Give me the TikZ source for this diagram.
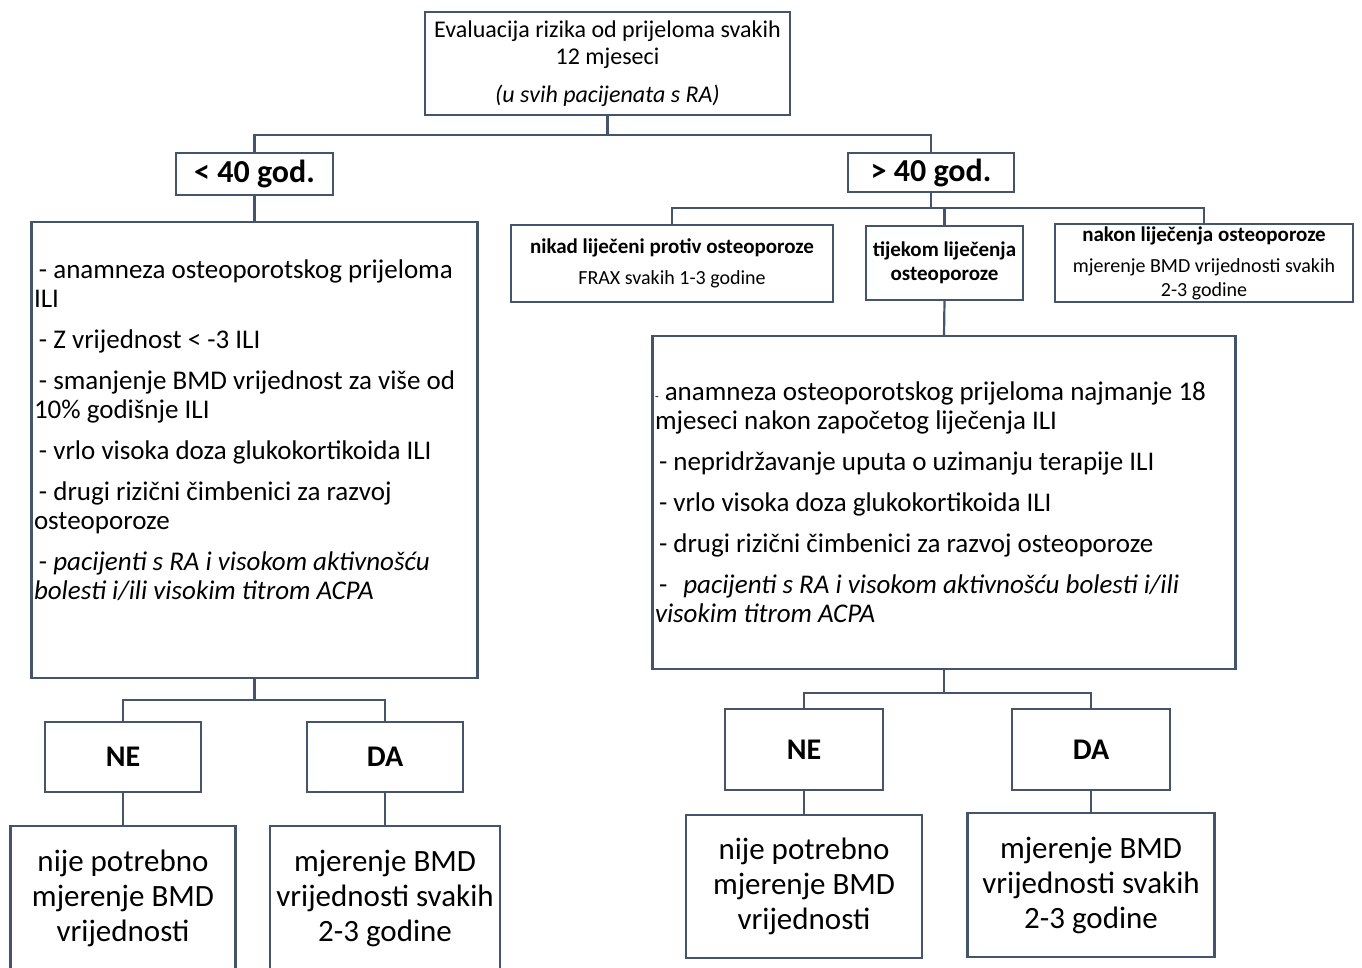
\documentclass[tikz,border=0pt]{standalone}
\usepackage{fontspec}
\setmainfont{Carlito}
\usepackage{tikz}
\usetikzlibrary{arrows}

\definecolor{linegray}{RGB}{68,84,106}

\begin{document}
\begin{tikzpicture}[x=1pt,y=-1pt,
  -,line width=2.2pt,
  box/.style={draw=linegray,rectangle,inner sep=0pt,outer sep=0pt,align=flush center},
  big/.style={box,align=flush left,inner xsep=2.5pt,font=\fontsize{27}{29}\selectfont},
  small/.style={box,font=\fontsize{20}{24}\selectfont},
  age/.style={box,font=\fontsize{32}{32}\selectfont\bfseries},
  choice/.style={box,font=\fontsize{30}{32}\selectfont\bfseries},
  result/.style={box,font=\fontsize{31}{35}\selectfont}]
      \clip (0,0) rectangle (1362,968);

      \tikzstyle{link}=[draw=linegray]

     \node [box,font=\fontsize{24}{27}\selectfont,minimum width=365,minimum height=103] (A) at (607.5,63.5)
	{Evaluacija rizika od prijeloma svakih\\12 mjeseci\\[11pt]\textit{(u svih pacijenata s RA)}};

     \node [age,minimum width=157,minimum height=42] (B1) at (254.5,174) {< 40 god.};
     \node [age,minimum width=166,minimum height=39] (B2) at (931,172.5) {> 40 god.};

     \node [big,text width=441,minimum height=456] (C1) at (254.5,450)
	{\hspace*{5pt}- anamneza osteoporotskog prijeloma\\ILI\\[12pt]
	 \hspace*{5pt}- Z vrijednost < -3 ILI\\[12pt]
	 \hspace*{5pt}- smanjenje BMD vrijednost za više od\\10\% godišnje ILI\\[12pt]
	 \hspace*{5pt}- vrlo visoka doza glukokortikoida ILI\\[12pt]
	 \hspace*{5pt}- drugi rizični čimbenici za razvoj\\osteoporoze\\[12pt]
	 \hspace*{5pt}- \textit{pacijenti s RA i visokom aktivnošću}\\\textit{bolesti i/ili visokim titrom ACPA}\\[12pt]\mbox{}};

     \node [small,minimum width=322,minimum height=77] (C2) at (672,263.5)
	{{\fontsize{21}{24}\selectfont\bfseries nikad liječeni protiv osteoporoze}\\[7pt]FRAX svakih 1-3 godine};
     \node [small,minimum width=157,minimum height=74] (C3) at (944.5,263)
	{{\fontsize{21}{24}\selectfont\bfseries tijekom liječenja}\\{\fontsize{21}{24}\selectfont\bfseries osteoporoze}};
     \node [small,minimum width=298,minimum height=78] (C4) at (1204,263)
	{{\fontsize{21}{24}\selectfont\bfseries nakon liječenja osteoporoze}\\[7pt]mjerenje BMD vrijednosti svakih\\2-3 godine};

     \node [big,text width=578,minimum height=333] (D5) at (944,502.5)
	{{\fontsize{12}{12}\selectfont -} anamneza osteoporotskog prijeloma najmanje 18\\mjeseci nakon započetog liječenja ILI\\[12pt]
	 \hspace*{4pt}- nepridržavanje uputa o uzimanju terapije ILI\\[12pt]
	 \hspace*{4pt}- vrlo visoka doza glukokortikoida ILI\\[12pt]
	 \hspace*{4pt}- drugi rizični čimbenici za razvoj osteoporoze\\[12pt]
	 \hspace*{4pt}-\hspace{16pt}\textit{pacijenti s RA i visokom aktivnošću bolesti i/ili}\\\textit{visokim titrom ACPA}};

     \node [choice,minimum width=156,minimum height=70] (D1) at (123,757) {NE};
     \node [choice,minimum width=156,minimum height=70] (D2) at (385,757) {DA};
     \node [choice,minimum width=158,minimum height=81] (E5) at (804,749.5) {NE};
     \node [choice,minimum width=158,minimum height=81] (E6) at (1091,749.5) {DA};

     \node [result,minimum width=225,minimum height=144] (E1) at (123,898)
	{nije potrebno\\mjerenje BMD\\vrijednosti};
     \node [result,minimum width=230,minimum height=144] (E2) at (385,898)
	{mjerenje BMD\\vrijednosti svakih\\2-3 godine};
     \node [result,minimum width=236,minimum height=143] (F5) at (804,886.5)
	{nije potrebno\\mjerenje BMD\\vrijednosti};
     \node [result,minimum width=247,minimum height=144] (F6) at (1091,885)
	{mjerenje BMD\\vrijednosti svakih\\2-3 godine};

     \coordinate (J1) at (607.5,135);
     \coordinate (J2) at (931,208);
     \coordinate (J3) at (254.5,700);
     \coordinate (J4) at (944,693);

     \draw[link] (A.south) -- (J1) -| (B1.north);
     \draw[link] (J1) -| (B2.north);
     \draw[link] (B1.south) -- (C1.north);
     \draw[link] (B2.south) -- (J2) -| (C2.north);
     \draw[link] (J2) -| (C3.north);
     \draw[link] (J2) -| (C4.north);
     \draw[link] (C3.south) -- (D5.north);
     \draw[link] (C1.south) -- (J3) -| (D1.north);
     \draw[link] (J3) -| (D2.north);
     \draw[link] (D5.south) -- (J4) -| (E5.north);
     \draw[link] (J4) -| (E6.north);
     \draw[link] (D1.south) -- (E1.north);
     \draw[link] (D2.south) -- (E2.north);
     \draw[link] (E5.south) -- (F5.north);
     \draw[link] (E6.south) -- (F6.north);

  \end{tikzpicture}
\end{document}
